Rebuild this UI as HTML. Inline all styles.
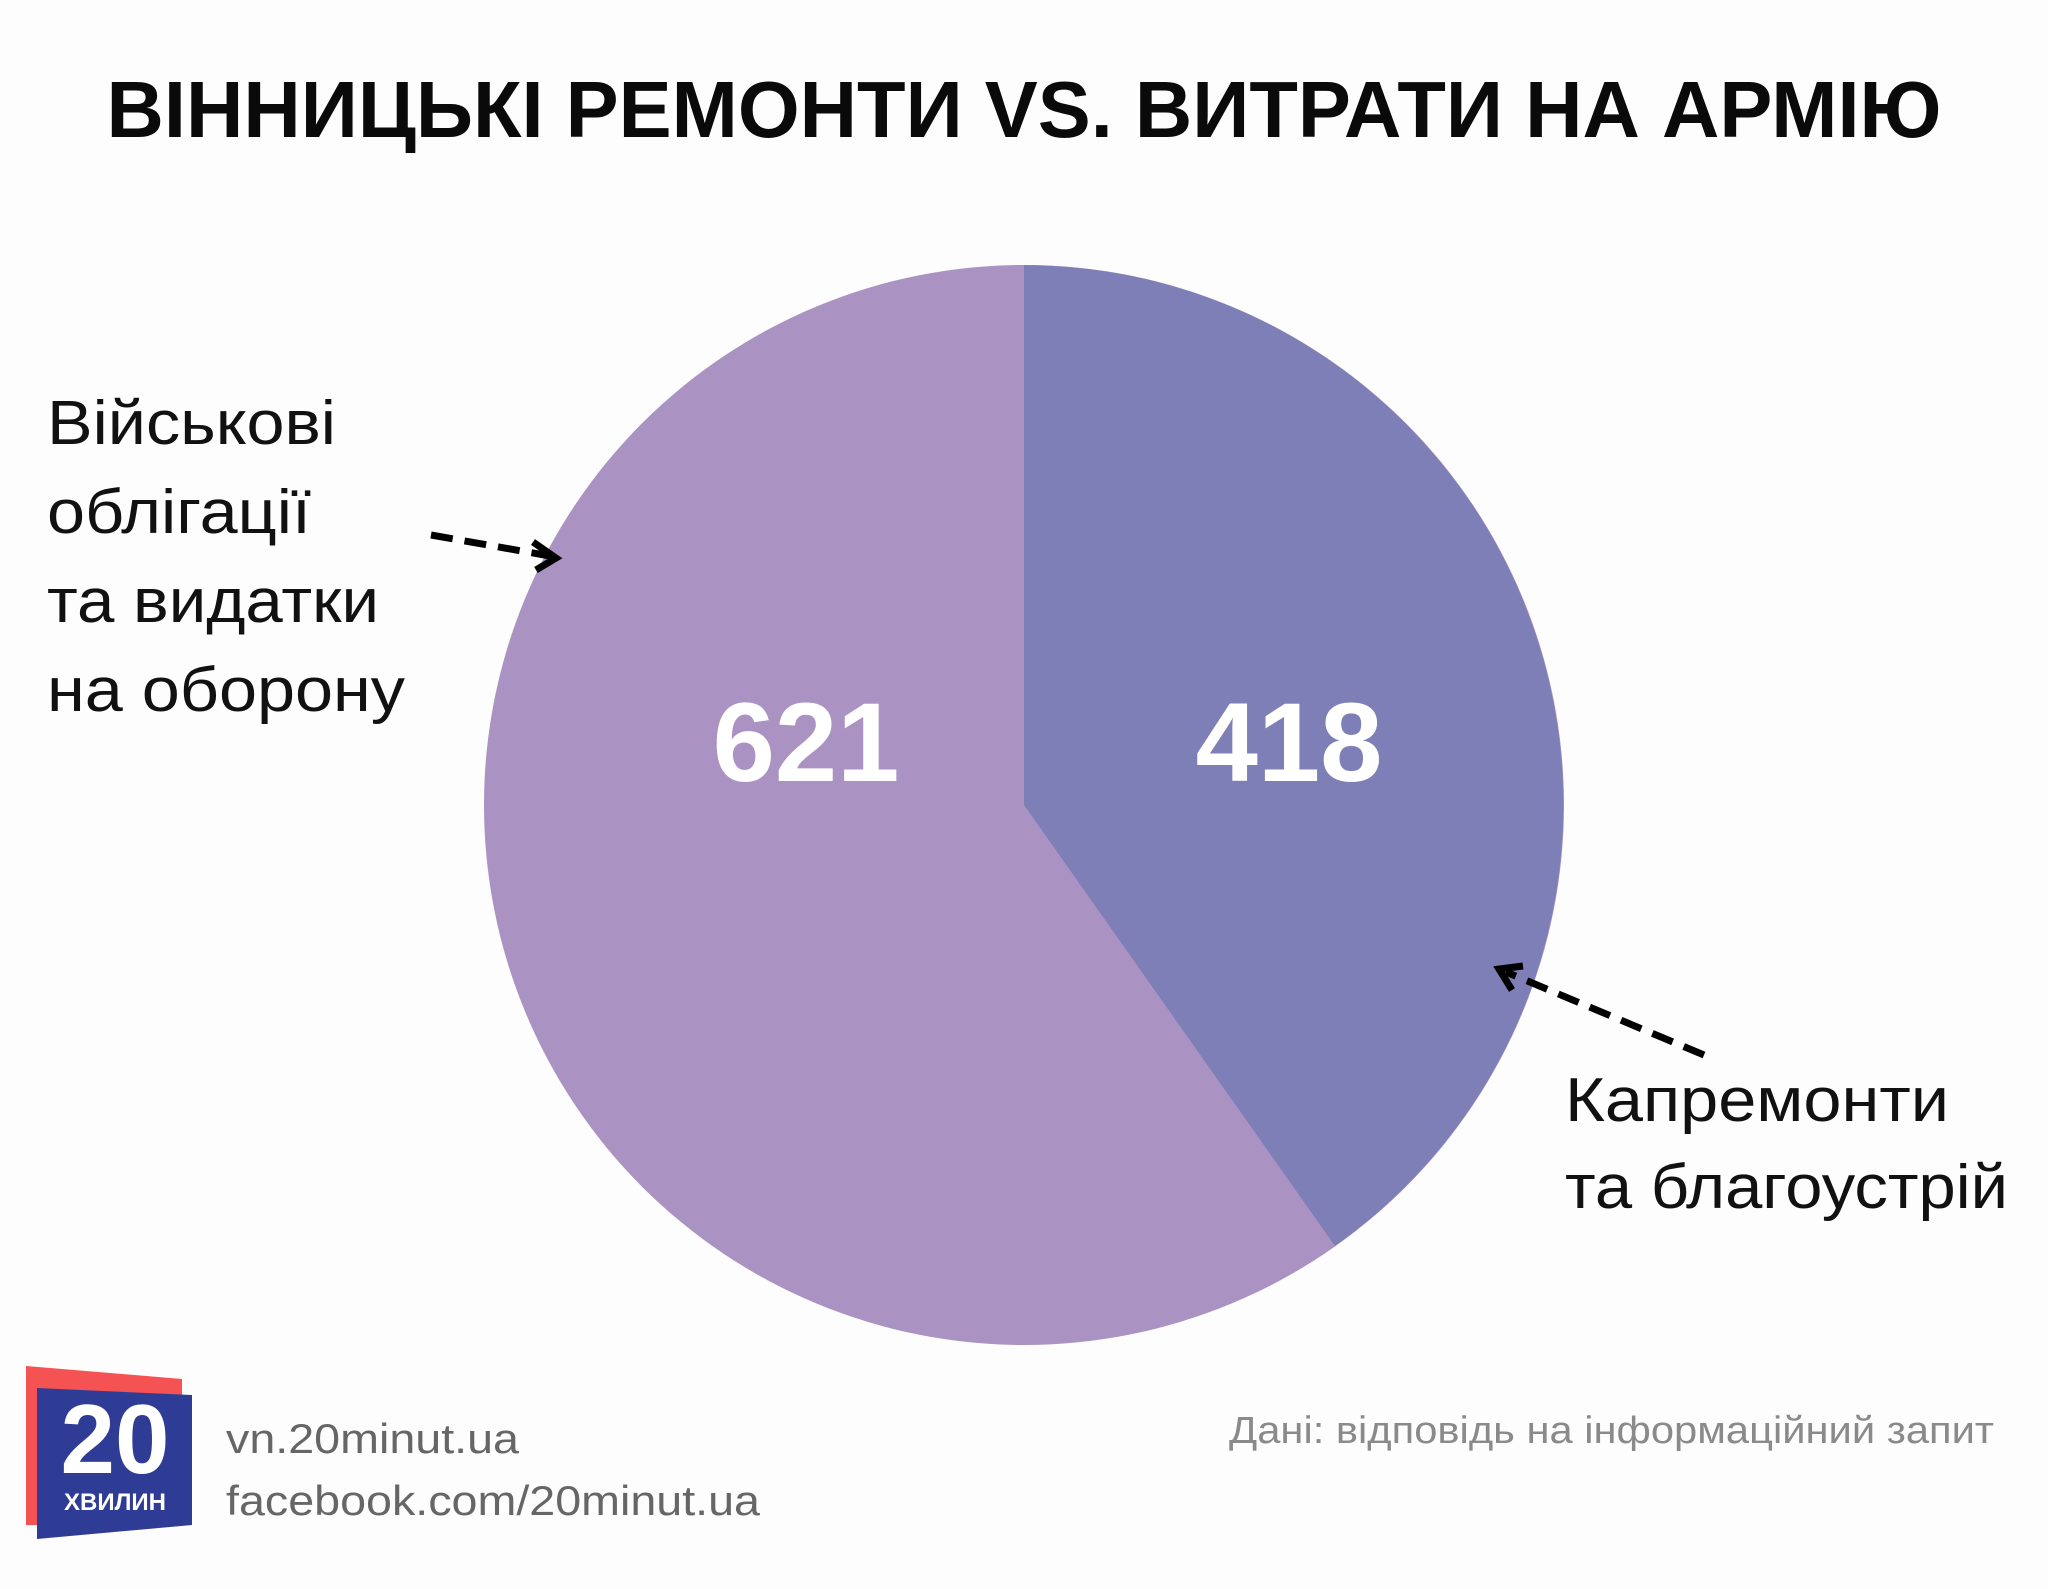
<!DOCTYPE html>
<html><head><meta charset="utf-8"><style>
html,body{margin:0;padding:0;background:#fdfdfd}
svg{display:block}
text{font-family:"Liberation Sans","DejaVu Sans",sans-serif}
</style></head><body>
<svg width="2048" height="1589" viewBox="0 0 2048 1589" xmlns="http://www.w3.org/2000/svg">
<rect width="2048" height="1589" fill="#fdfdfd"/>
<text x="1024" y="137" text-anchor="middle" font-size="80" font-weight="bold" fill="#0a0a0a" textLength="1835" lengthAdjust="spacingAndGlyphs">ВІННИЦЬКІ РЕМОНТИ VS. ВИТРАТИ НА АРМІЮ</text>
<circle cx="1024" cy="805" r="540" fill="#aa93c3"/>
<path d="M1024 805 L1024 265 A540 540 0 0 1 1335 1246 Z" fill="#7f7fb7"/>
<text x="806" y="781" text-anchor="middle" font-size="112" font-weight="bold" fill="#fff">621</text>
<text x="1289" y="781" text-anchor="middle" font-size="112" font-weight="bold" fill="#fff">418</text>
<g font-size="62" fill="#111" lengthAdjust="spacingAndGlyphs">
<text x="47" y="444" textLength="289" lengthAdjust="spacingAndGlyphs">Військові</text>
<text x="47" y="533" textLength="264" lengthAdjust="spacingAndGlyphs">облігації</text>
<text x="47" y="622" textLength="332" lengthAdjust="spacingAndGlyphs">та видатки</text>
<text x="47" y="711" textLength="358" lengthAdjust="spacingAndGlyphs">на оборону</text>
<text x="1565" y="1121" textLength="384" lengthAdjust="spacingAndGlyphs">Капремонти</text>
<text x="1565" y="1208" textLength="443" lengthAdjust="spacingAndGlyphs">та благоустрій</text>
</g>
<g stroke="#000" stroke-width="7" fill="none">
<line x1="431" y1="535" x2="550" y2="556" stroke-dasharray="22,12"/>
<polyline points="533,542 556,558 536,570"/>
<line x1="1704" y1="1055" x2="1506" y2="972" stroke-dasharray="22,12"/>
<polyline points="1512,990 1499,969 1523,966"/>
</g>
<polygon points="26,1366 182,1379 182,1525 26,1525" fill="#f55253"/>
<polygon points="37,1388 192,1395 192,1525 37,1539" fill="#2f3c96"/>
<text x="115" y="1473" text-anchor="middle" font-size="98" font-weight="bold" fill="#fff">20</text>
<text x="115" y="1510" text-anchor="middle" font-size="24" font-weight="bold" fill="#fff">ХВИЛИН</text>
<text x="226" y="1453" font-size="42" fill="#666" textLength="293" lengthAdjust="spacingAndGlyphs">vn.20minut.ua</text>
<text x="226" y="1515" font-size="42" fill="#666" textLength="534" lengthAdjust="spacingAndGlyphs">facebook.com/20minut.ua</text>
<text x="1229" y="1443" font-size="38" fill="#8a8a8a" textLength="765" lengthAdjust="spacingAndGlyphs">Дані: відповідь на інформаційний запит</text>
</svg>
</body></html>
